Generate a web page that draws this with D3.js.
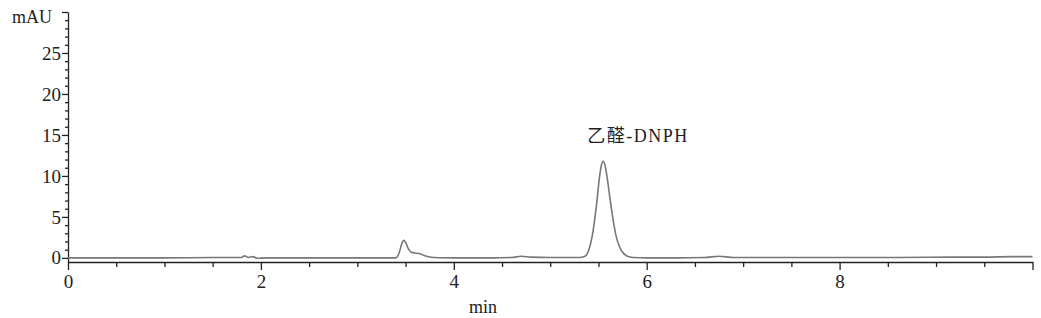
<!DOCTYPE html>
<html>
<head>
<meta charset="utf-8">
<script src="https://cdn.jsdelivr.net/npm/d3@7/dist/d3.min.js"></script>
<style>
  body { margin: 0; background: #fff; }
  text { font-family: "Liberation Serif", "Noto Sans CJK SC", serif; fill: #222; }
</style>
</head>
<body>
<svg width="1041" height="318"></svg>
<script>
// chromatogram trace (min, mAU)
var times = [0, 0.5, 1.0, 1.5, 1.8, 1.83, 1.87, 1.92, 1.96, 2.05, 2.5, 3.0, 3.40, 3.43, 3.46, 3.48, 3.50, 3.53, 3.56, 3.60,
             3.65, 3.70, 3.75, 3.85, 4.0, 4.4, 4.6, 4.7, 4.8, 5.0, 5.3, 5.36, 5.40, 5.44, 5.48, 5.51, 5.53, 5.55, 5.57, 5.59,
             5.62, 5.65, 5.68, 5.72, 5.76, 5.80, 5.86, 6.0, 6.3, 6.6, 6.75, 6.9, 7.5, 8.0, 8.6, 9.2, 9.5, 9.8, 10];
var mau   = [0.0, 0.0, 0.0, 0.05, 0.05, 0.25, 0.05, 0.15, -0.05, 0.0, 0.0, 0.0, 0.0, 0.5, 1.7, 2.15, 1.9, 1.1, 0.7, 0.6,
             0.5, 0.25, 0.1, 0.02, 0.0, 0.0, 0.05, 0.2, 0.1, 0.05, 0.05, 0.2, 1.0, 3.0, 6.5, 9.8, 11.3, 11.8, 11.2, 9.8,
             7.2, 4.8, 2.8, 1.3, 0.55, 0.2, 0.05, 0.0, 0.0, 0.05, 0.2, 0.05, 0.05, 0.05, 0.05, 0.1, 0.1, 0.15, 0.15];

var xTicks = d3.range(0, 10.01, 0.5);
var xLabels = [0, 2, 4, 6, 8];
var yTicks = d3.range(0, 31, 1);
var yLabels = [0, 5, 10, 15, 20, 25];
var peakName = "乙醛-DNPH";

var svg = d3.select("svg");

var x = d3.scaleLinear().domain([0, 10]).range([68, 1032.5]);
var y = d3.scaleLinear().domain([-0.5, 30]).range([262, 12]);

// x axis
var xAxis = svg.append("g")
    .attr("transform", "translate(0," + y(-0.5) + ")")
    .call(d3.axisBottom(x)
        .tickValues(xTicks)
        .tickSizeOuter(0)
        .tickFormat(function(d) { return xLabels.indexOf(d) >= 0 ? d : ""; }));
xAxis.selectAll(".tick line")
    .attr("y2", function(d) { return d % 2 === 0 ? 8 : 5; });
xAxis.selectAll(".tick text").attr("y", 13).style("font-size", "19px");

// y axis
var yAxis = svg.append("g")
    .attr("transform", "translate(" + x(0) + ",0)")
    .call(d3.axisLeft(y)
        .tickValues(yTicks)
        .tickSizeOuter(0)
        .tickFormat(function(d) { return yLabels.indexOf(d) >= 0 ? d : ""; }));
yAxis.selectAll(".tick line")
    .attr("x2", function(d) { return d % 5 === 0 ? -6 : -3; });
yAxis.selectAll(".tick text").attr("x", -7).style("font-size", "19px");

svg.selectAll(".domain").attr("stroke", "#222").attr("stroke-width", 1.3);
svg.selectAll(".tick line").attr("stroke", "#222").attr("stroke-width", 1.3);
svg.selectAll(".tick text").attr("fill", "#222");

// axis titles
svg.append("text").attr("x", 52).attr("y", 23).attr("text-anchor", "end")
    .style("font-size", "18px").text("mAU");
svg.append("text").attr("x", 483).attr("y", 313).attr("text-anchor", "middle")
    .style("font-size", "18px").text("min");

// trace
var line = d3.line()
    .x(function(d, i) { return x(times[i]); })
    .y(function(d) { return y(d); })
    .curve(d3.curveMonotoneX);

svg.append("path")
    .datum(mau)
    .attr("fill", "none")
    .attr("stroke", "#777")
    .attr("stroke-width", 1.6)
    .attr("stroke-linejoin", "round")
    .attr("d", line);

// peak label
svg.append("text")
    .attr("x", 638).attr("y", 142)
    .attr("text-anchor", "middle")
    .style("font-size", "18px")
    .style("letter-spacing", "1.5px")
    .text(peakName);
</script>
</body>
</html>
